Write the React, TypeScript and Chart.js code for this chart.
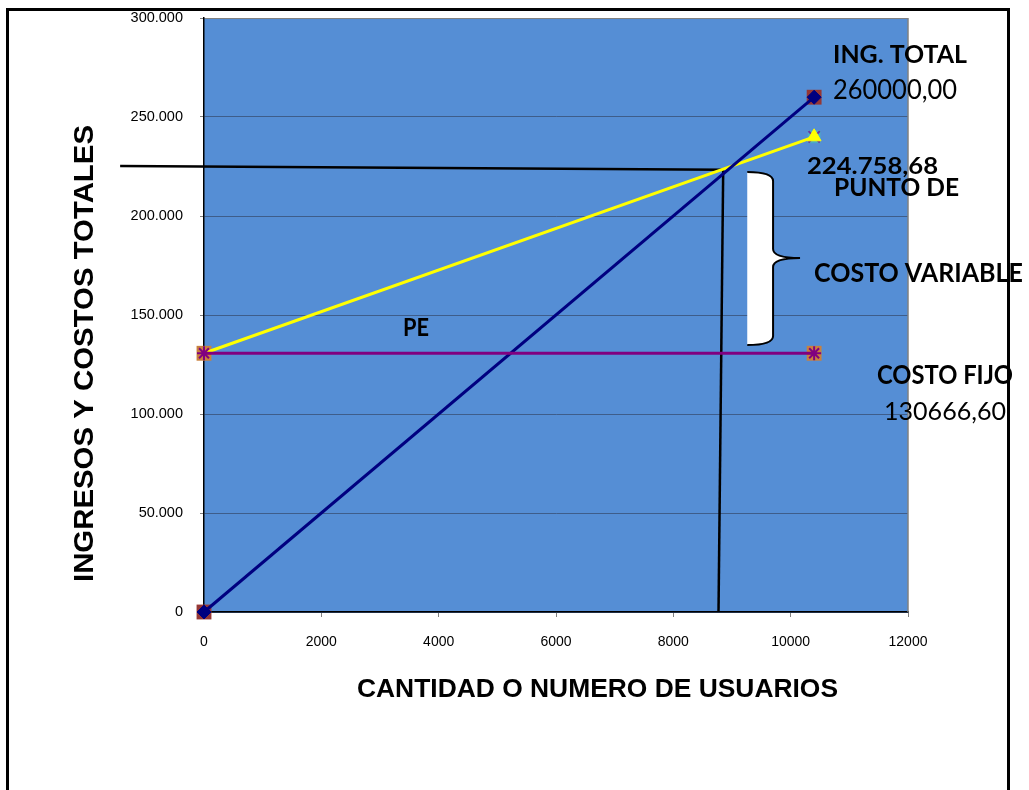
import React, { useEffect, useRef } from "react";
import { Chart, registerables } from "chart.js";

Chart.register(...registerables);

// ---- data ----
const usuarios = [0, 10400];
const ingresoTotal = [0, 260000];
const costoTotal = [130666.6, 240000];
const costoFijo = [130666.6, 130666.6];
// black guide lines to the break-even point (PE)
const guiaHorizX = [-1430, 8850];
const guiaHorizY = [225300, 223300];
const guiaVertX = [8850, 8770];
const guiaVertY = [223300, 0];
// curly brace marking the variable cost (x: left, right, tip; y: top, middle, bottom)
const llaveX = [9260, 9700, 10160];
const llaveY = [222200, 178800, 134800];
// axis ticks
const yTicks = [0, 50000, 100000, 150000, 200000, 250000, 300000];
const xTicks = [0, 2000, 4000, 6000, 8000, 10000, 12000];

const pts = (xs: number[], ys: number[]) => xs.map((x, i) => ({ x, y: ys[i] }));
const fmtMiles = (v: number) => String(v).replace(/\B(?=(\d{3})+(?!\d))/g, ".");

function fitText(
  ctx: CanvasRenderingContext2D,
  text: string,
  left: number,
  right: number,
  baseline: number,
  cap: number,
  family: string,
  weight: string,
  rotate = false
) {
  const size = cap / 0.716;
  ctx.save();
  ctx.font = `${weight} ${size}px ${family}`;
  ctx.textAlign = "left";
  ctx.textBaseline = "alphabetic";
  ctx.fillStyle = "#000";
  const w = ctx.measureText(text).width;
  ctx.translate(left, baseline);
  if (rotate) {
    ctx.rotate(-Math.PI / 2);
    ctx.scale(right / w, 1);
  } else {
    ctx.scale((right - left) / w, 1);
  }
  ctx.fillText(text, 0, 0);
  ctx.restore();
}

const decorPlugin = {
  id: "decor",
  beforeDraw(chart: any) {
    const { ctx, chartArea } = chart;
    ctx.save();
    ctx.fillStyle = "#558ED5";
    ctx.fillRect(chartArea.left, chartArea.top, chartArea.right - chartArea.left, chartArea.bottom - chartArea.top);
    ctx.restore();
  },
  beforeDatasetsDraw(chart: any) {
    const { ctx, chartArea } = chart;
    ctx.save();
    ctx.strokeStyle = "#808080";
    ctx.lineWidth = 1.5;
    ctx.beginPath();
    ctx.moveTo(chartArea.right, chartArea.top);
    ctx.lineTo(chartArea.right, chartArea.bottom);
    ctx.stroke();
    ctx.restore();
  },
  afterDatasetsDraw(chart: any) {
    const { ctx, scales } = chart;
    const xs = scales.x;
    const ys = scales.y;
    // brace
    const xl = xs.getPixelForValue(llaveX[0]);
    const xr = xs.getPixelForValue(llaveX[1]);
    const xt = xs.getPixelForValue(llaveX[2]);
    const yt = ys.getPixelForValue(llaveY[0]);
    const ym = ys.getPixelForValue(llaveY[1]);
    const yb = ys.getPixelForValue(llaveY[2]);
    const r = 9;
    ctx.save();
    ctx.beginPath();
    ctx.moveTo(xl, yt);
    ctx.quadraticCurveTo(xr, yt, xr, yt + r);
    ctx.lineTo(xr, ym - r);
    ctx.quadraticCurveTo(xr, ym, xt, ym);
    ctx.quadraticCurveTo(xr, ym, xr, ym + r);
    ctx.lineTo(xr, yb - r);
    ctx.quadraticCurveTo(xr, yb, xl, yb);
    ctx.fillStyle = "#FFFFFF";
    ctx.fill();
    ctx.strokeStyle = "#000";
    ctx.lineWidth = 2;
    ctx.stroke();
    ctx.restore();
  },
  afterDraw(chart: any) {
    const { ctx } = chart;
    // outer frame (left, top, right)
    ctx.save();
    ctx.strokeStyle = "#000";
    ctx.lineWidth = 3;
    ctx.beginPath();
    ctx.moveTo(7.5, 795);
    ctx.lineTo(7.5, 9.5);
    ctx.lineTo(1008.5, 9.5);
    ctx.lineTo(1008.5, 795);
    ctx.stroke();
    ctx.restore();

    const sans = "'Liberation Sans', Arial, sans-serif";
    const lato = "Lato, 'Open Sans', sans-serif";
    // axis titles
    fitText(ctx, "INGRESOS Y COSTOS TOTALES", 93, 457, 582, 20, sans, "bold", true);
    fitText(ctx, "CANTIDAD O NUMERO DE USUARIOS", 357, 838, 697, 18, sans, "bold");
    // annotations
    fitText(ctx, "ING. TOTAL", 833, 967, 63, 18, lato, "bold");
    fitText(ctx, "260000,00", 833, 957, 99, 19, lato, "normal");
    fitText(ctx, "224.758,68", 807, 938, 174, 17, lato, "bold");
    fitText(ctx, "PUNTO DE", 834, 959, 196, 18, lato, "bold");
    fitText(ctx, "COSTO VARIABLE", 814, 1023, 282, 19, lato, "bold");
    fitText(ctx, "COSTO FIJO", 877, 1013, 384, 19, lato, "bold");
    fitText(ctx, "130666,60", 884, 1006, 420, 18, lato, "normal");
    fitText(ctx, "PE", 403, 429, 336, 18, lato, "bold");
  },
};

export default function App() {
  const ref = useRef<HTMLCanvasElement | null>(null);

  useEffect(() => {
    if (!ref.current) return;
    const chart = new Chart(ref.current, {
      type: "line",
      data: {
        datasets: [
          {
            label: "Costo fijo",
            data: pts(usuarios, costoFijo),
            borderColor: "#800080",
            borderWidth: 3,
            pointStyle: "star",
            pointRadius: 7,
            pointBorderColor: "#800080",
            pointBackgroundColor: "#800080",
            pointBorderWidth: 2,
            clip: false as any,
            order: 1,
          },
          {
            label: "Ingreso total",
            data: pts(usuarios, ingresoTotal),
            borderColor: "#000080",
            borderWidth: 3,
            pointStyle: "rectRot",
            pointRadius: 7,
            pointBorderColor: "#000080",
            pointBackgroundColor: "#000080",
            pointBorderWidth: 1,
            clip: false as any,
            order: 2,
          },
          {
            label: "Costo total",
            data: pts(usuarios, costoTotal),
            borderColor: "#FFFF00",
            borderWidth: 3,
            pointStyle: "triangle",
            pointRadius: [0, 8],
            pointBorderColor: "#FFFF00",
            pointBackgroundColor: "#FFFF00",
            pointBorderWidth: 1,
            clip: false as any,
            order: 3,
          },
          {
            label: "Costo total marca",
            data: pts(usuarios, costoTotal),
            showLine: false,
            pointStyle: "crossRot",
            pointRadius: [0, 8],
            pointBorderColor: "#7030A0",
            pointBorderWidth: 2,
            clip: false as any,
            order: 4,
          },
          {
            label: "Costo total fondo",
            data: pts(usuarios, costoTotal),
            showLine: false,
            pointStyle: "rect",
            pointRadius: [0, 9],
            pointBackgroundColor: "#4BACC6",
            pointBorderColor: "#4BACC6",
            pointBorderWidth: 0,
            clip: false as any,
            order: 5,
          },
          {
            label: "Ingreso total fondo",
            data: pts(usuarios, ingresoTotal),
            showLine: false,
            pointStyle: "rect",
            pointRadius: 10.5,
            pointBackgroundColor: "#953735",
            pointBorderColor: "#953735",
            pointBorderWidth: 0,
            clip: false as any,
            order: 5,
          },
          {
            label: "Costo fijo fondo",
            data: pts(usuarios, costoFijo),
            showLine: false,
            pointStyle: "rect",
            pointRadius: 10.5,
            pointBackgroundColor: "#C9803E",
            pointBorderColor: "#C9803E",
            pointBorderWidth: 0,
            clip: false as any,
            order: 5,
          },
          {
            label: "Guía horizontal",
            data: pts(guiaHorizX, guiaHorizY),
            borderColor: "#000000",
            borderWidth: 2.5,
            pointRadius: 0,
            clip: false as any,
            order: 10,
          },
          {
            label: "Guía vertical",
            data: pts(guiaVertX, guiaVertY),
            borderColor: "#000000",
            borderWidth: 2.5,
            pointRadius: 0,
            clip: false as any,
            order: 10,
          },
        ],
      },
      options: {
        animation: false,
        responsive: false,
        devicePixelRatio: 1,
        events: [],
        layout: { padding: { left: 0, top: 18, right: 121, bottom: 0 } },
        plugins: { legend: { display: false }, tooltip: { enabled: false }, title: { display: false } },
        scales: {
          x: {
            type: "linear",
            min: 0,
            max: 12000,
            afterFit: (s: any) => {
              s.height = 178;
              s.paddingLeft = 0;
              s.paddingRight = 0;
            },
            afterBuildTicks: (s: any) => {
              s.ticks = xTicks.map((v) => ({ value: v }));
            },
            ticks: {
              color: "#000",
              font: { family: "'Liberation Sans', Arial, sans-serif", size: 14 },
              padding: 17,
              maxRotation: 0,
              callback: (v: any) => String(v),
            },
            grid: {
              drawOnChartArea: false,
              drawTicks: true,
              tickLength: 5,
              tickColor: "#808080",
            },
            border: { display: true, color: "#000", width: 1.5 },
          },
          y: {
            type: "linear",
            min: 0,
            max: 300000,
            afterFit: (s: any) => {
              s.width = 204;
              s.paddingTop = 0;
              s.paddingBottom = 0;
            },
            afterBuildTicks: (s: any) => {
              s.ticks = yTicks.map((v) => ({ value: v }));
            },
            ticks: {
              color: "#000",
              font: { family: "'Liberation Sans', Arial, sans-serif", size: 14.5 },
              padding: 17,
              callback: (v: any) => fmtMiles(Number(v)),
            },
            grid: {
              drawOnChartArea: true,
              drawTicks: true,
              tickLength: 4,
              tickColor: "#808080",
              lineWidth: 1,
              color: (c: any) => (c.tick && c.tick.value === 300000 ? "#808080" : "#3E5D8A"),
            },
            border: { display: true, color: "#000", width: 1.5 },
          },
        },
      },
      plugins: [decorPlugin],
    });
    return () => chart.destroy();
  }, []);

  return (
    <div style={{ position: "fixed", left: 0, top: 0, width: 1029, height: 790, background: "#fff" }}>
      <canvas ref={ref} width={1029} height={790} style={{ display: "block", width: 1029, height: 790 }} />
    </div>
  );
}
